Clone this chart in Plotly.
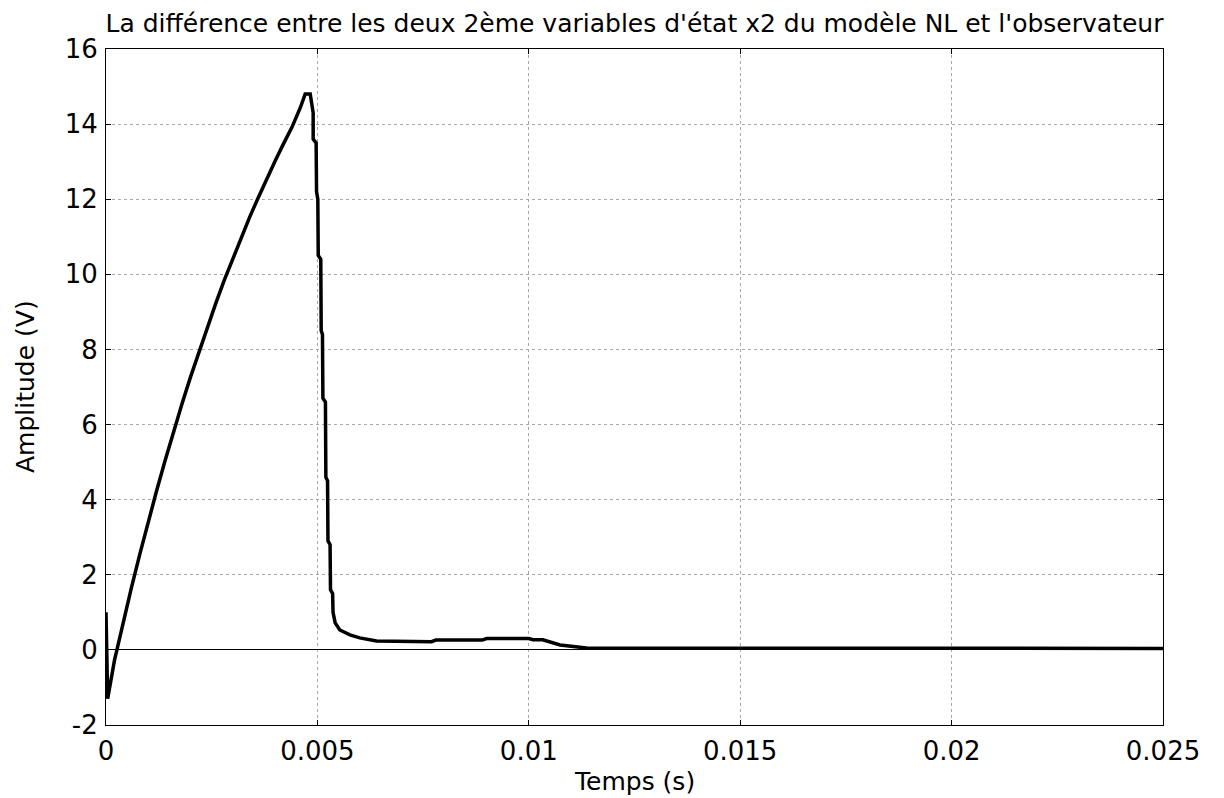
import plotly.graph_objects as go

# Time (s) and amplitude (V)
t_values = [
    0.0, 0.00002, 0.00004, 0.0002, 0.0004, 0.0006, 0.0008, 0.0010, 0.0012,
    0.0014, 0.0016, 0.0018, 0.0020, 0.0022, 0.0024, 0.0026, 0.0028, 0.0030,
    0.0032, 0.0034, 0.0036, 0.0038, 0.0040, 0.0042, 0.0044, 0.0046, 0.00471,
    0.00483, 0.00487, 0.0049, 0.0049, 0.00497, 0.00498, 0.00501, 0.00502,
    0.00508, 0.00509, 0.00512, 0.00513, 0.00519, 0.0052, 0.00524, 0.00525,
    0.0053, 0.00531, 0.00536, 0.00537, 0.00542, 0.00553, 0.00577, 0.0060,
    0.0064, 0.0077, 0.0078, 0.0089, 0.0090, 0.0100, 0.0101, 0.01033, 0.01074,
    0.01121, 0.0114, 0.0250,
]
amp_values = [
    1.0, -1.0, -1.3, -0.28, 0.70, 1.65, 2.55, 3.42, 4.25,
    5.05, 5.82, 6.56, 7.27, 7.95, 8.61, 9.24, 9.85, 10.43,
    10.99, 11.53, 12.04, 12.54, 13.02, 13.48, 13.92, 14.45, 14.8,
    14.8, 14.4, 14.3, 13.6, 13.5, 12.2, 12.0, 10.5,
    10.4, 8.5, 8.4, 6.7, 6.6, 4.6, 4.5, 2.9,
    2.8, 1.6, 1.5, 1.0, 0.72, 0.53, 0.40, 0.32,
    0.24, 0.22, 0.26, 0.26, 0.30, 0.30, 0.27, 0.27, 0.13,
    0.07, 0.045, 0.04,
]

x_ticks = [0, 0.005, 0.01, 0.015, 0.02, 0.025]
x_tick_text = ["0", "0.005", "0.01", "0.015", "0.02", "0.025"]
y_ticks = [-2, 0, 2, 4, 6, 8, 10, 12, 14, 16]
y_tick_text = ["-2", "0", "2", "4", "6", "8", "10", "12", "14", "16"]

title_text = "La différence entre les deux 2ème variables d'état x2 du modèle NL et l'observateur"
x_label = "Temps (s)"
y_label = "Amplitude (V)"

FONT = "DejaVu Sans, Arial, sans-serif"

fig = go.Figure()
fig.add_trace(go.Scatter(
    x=t_values, y=amp_values, mode="lines",
    line=dict(color="black", width=3.5),
    showlegend=False,
))

axis_common = dict(
    showline=True, linecolor="black", linewidth=1, mirror="ticks",
    ticks="inside", ticklen=5, tickcolor="black", tickwidth=1,
    showgrid=True, gridcolor="#a8a8a8", gridwidth=1, griddash="dot",
    tickfont=dict(family=FONT, size=26, color="black"),
    automargin=False,
)

fig.update_layout(
    width=1216, height=790,
    paper_bgcolor="white", plot_bgcolor="white",
    margin=dict(l=98, r=61, t=41, b=73),
    title=dict(text=title_text, xref="paper", x=0.5, xanchor="center",
               yref="container", y=0.981, yanchor="middle",
               font=dict(family=FONT, size=25, color="black")),
    xaxis=dict(
        range=[0, 0.025], tickvals=x_ticks, ticktext=x_tick_text,
        zeroline=False, ticklabelstandoff=3,
        **axis_common,
    ),
    yaxis=dict(
        range=[-2, 16], tickvals=y_ticks, ticktext=y_tick_text,
        zeroline=True, zerolinecolor="black", zerolinewidth=1,
        ticklabelstandoff=2,
        **axis_common,
    ),
    annotations=[
        dict(
            text=y_label, textangle=-90, showarrow=False,
            xref="paper", yref="paper", x=-0.0766, y=0.5,
            xanchor="center", yanchor="middle",
            font=dict(family=FONT, size=25, color="black"),
        ),
        dict(
            text=x_label, showarrow=False,
            xref="paper", yref="paper", x=0.5, y=-0.0843,
            xanchor="center", yanchor="middle",
            font=dict(family=FONT, size=25, color="black"),
        ),
    ],
)

fig.write_html("out.html")
